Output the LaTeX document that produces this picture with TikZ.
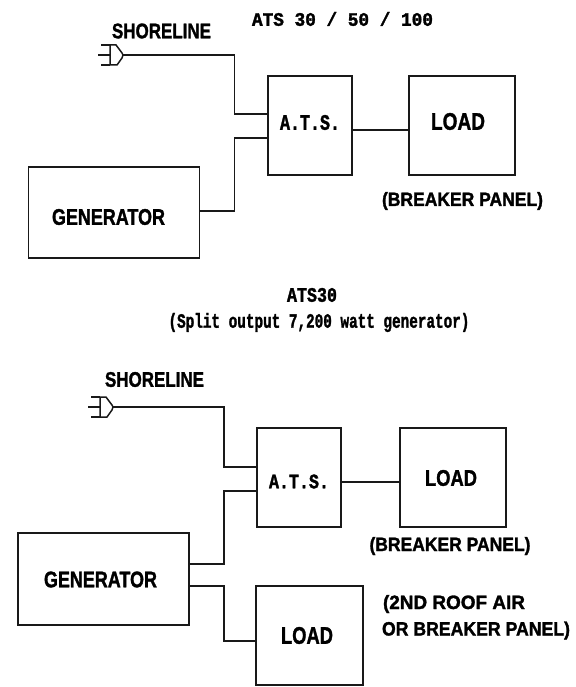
\documentclass[tikz,border=0pt]{standalone}
\usepackage{fontspec}
\usepackage{graphicx}
\setmainfont{Liberation Sans}[BoldFeatures={FakeBold=1.6}]
\newfontfamily\monob{Liberation Mono}[BoldFont={Liberation Mono Bold},BoldFeatures={FakeBold=1.8}]
\newcommand{\fitsans}[3]{\resizebox*{#1pt}{#2pt}{\bfseries #3}}
\newcommand{\fitmono}[3]{\resizebox*{#1pt}{#2pt}{\monob\bfseries #3}}
\tikzset{
  block/.style={draw=black!90,line width=1.8pt,inner sep=0pt,outer sep=0pt,fill=white},
  wire/.style={draw=black!90,line width=1.8pt,line join=miter},
  prong/.style={draw=black!90,line width=1.5pt},
  lbl/.style={inner sep=0pt,outer sep=0pt,text=black},
  plugpic/.pic={
    \draw[prong] (0,-10)--(-9,-10) (0,0)--(-12,0) (0,10)--(-9,10);
    \draw[prong] (0,-10) -- (6,-10) -- (12,-2) -- (13,0) -- (12,3) -- (7,10) -- (0,10) -- cycle;
  }
}
\begin{document}
\begin{tikzpicture}[x=1pt,y=-1pt]
\useasboundingbox[fill=white] (0,0) rectangle (575,687);
% top diagram
\node[block,minimum width=84pt,minimum height=99pt] (ats1) at (310,125.5) {};
\node[block,minimum width=106pt,minimum height=99pt] (load1) at (462,125.5) {};
\node[block,minimum width=171pt,minimum height=91pt] (gen1) at (114,212.5) {};
\pic at (110,55) {plugpic};
\coordinate (plug1) at (123,55);
\coordinate (b1) at (234.5,114);
\coordinate (b2) at (234.5,138);
\draw[wire] (plug1) -| (b1) -- (b1 -| ats1.west);
\draw[wire] (gen1.east |- 0,211) -| (b2) -- (b2 -| ats1.west);
\draw[wire] (ats1.east |- 0,130) -- (load1.west |- 0,130);
\node[lbl] (t1) at (342.5,19) {\fitmono{181}{14}{ATS 30 / 50 / 100}};
\node[lbl] (t2) at (161.5,31) {\fitsans{99}{15}{SHORELINE}};
\node[lbl] (t3) at (310,122.5) {\fitmono{60}{15}{A.T.S.}};
\node[lbl] (t4) at (458,121.5) {\fitsans{54}{17}{LOAD}};
\node[lbl] (t5) at (462.5,201) {\fitsans{161}{18}{(BREAKER PANEL)}};
\node[lbl] (t6) at (108.5,217) {\fitsans{113}{16}{GENERATOR}};
% bottom diagram
\node[lbl] (t7) at (312,295) {\fitmono{50}{14}{ATS30}};
\node[lbl] (t8) at (319,322.5) {\fitmono{301}{19}{(Split output 7,200 watt generator)}};
\node[block,minimum width=84pt,minimum height=99pt] (ats2) at (299,477.5) {};
\node[block,minimum width=106pt,minimum height=99pt] (load2) at (453,477.5) {};
\node[block,minimum width=171pt,minimum height=92pt] (gen2) at (103.5,579) {};
\node[block,minimum width=107pt,minimum height=99pt] (load3) at (309.5,635.5) {};
\pic at (100,407) {plugpic};
\coordinate (plug2) at (113,407);
\coordinate (b3) at (224,467);
\coordinate (b4) at (224,491);
\coordinate (b5) at (224,641);
\draw[wire] (plug2) -| (b3) -- (b3 -| ats2.west);
\draw[wire] (gen2.east |- 0,564) -| (b4) -- (b4 -| ats2.west);
\draw[wire] (gen2.east |- 0,586) -| (b5) -- (b5 -| load3.west);
\draw[wire] (ats2.east |- 0,482) -- (load2.west |- 0,482);
\node[lbl] (t9) at (154.5,379.5) {\fitsans{99}{15}{SHORELINE}};
\node[lbl] (t10) at (299,481.5) {\fitmono{60}{14}{A.T.S.}};
\node[lbl] (t11) at (451,478) {\fitsans{52}{16}{LOAD}};
\node[lbl] (t12) at (450,546) {\fitsans{161}{18}{(BREAKER PANEL)}};
\node[lbl] (t13) at (100.5,579.5) {\fitsans{113}{16}{GENERATOR}};
\node[lbl] (t14) at (454,604) {\fitsans{142}{18}{(2ND ROOF AIR}};
\node[lbl] (t15) at (476,630.5) {\fitsans{188}{18}{OR BREAKER PANEL)}};
\node[lbl] (t16) at (307,635.5) {\fitsans{52}{17}{LOAD}};
\end{tikzpicture}
\end{document}
